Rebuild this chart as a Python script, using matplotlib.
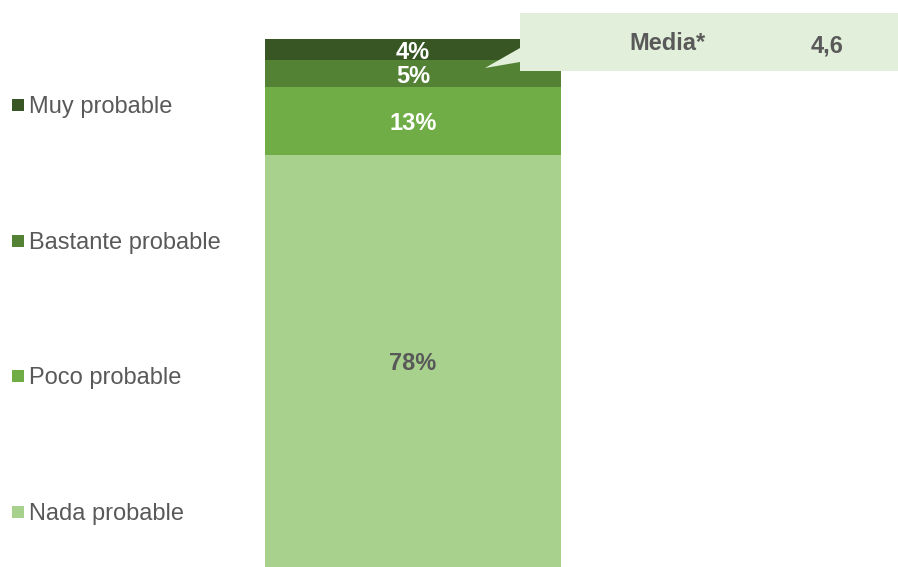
import matplotlib.pyplot as plt
from matplotlib.patches import Polygon, Rectangle

# Datos (de abajo hacia arriba)
categorias = ['Nada probable', 'Poco probable', 'Bastante probable', 'Muy probable']
valores = [78, 13, 5, 4]
colores = ['#A9D18E', '#70AD47', '#548235', '#375623']
color_etiqueta = ['#595959', 'white', 'white', 'white']
media_label = 'Media*'
media_valor = '4,6'

W, H = 898, 567
gris = '#595959'
plt.rcParams['font.family'] = ['Liberation Sans', 'DejaVu Sans']

fig = plt.figure(figsize=(W / 100, H / 100), dpi=100)

def px(x, y):
    # pixeles (origen arriba-izquierda) -> fraccion de figura
    return (x / W, 1 - y / H)

# Barra apilada
ax = fig.add_axes([265 / W, 0, 296 / W, 528 / H])
bottom = 0
for v, c, tc in zip(valores, colores, color_etiqueta):
    ax.bar(0.5, v, width=1, bottom=bottom, color=c, linewidth=0)
    ax.annotate(f'{v}%', (0.5, bottom + v / 2), xytext=(0, -2),
                textcoords='offset points', ha='center', va='center',
                color=tc, fontsize=17, fontweight='bold', annotation_clip=False, zorder=5)
    bottom += v
ax.set_xlim(0, 1)
ax.set_ylim(0, 100)
ax.axis('off')

# Leyenda manual
ys = [512, 376, 241, 105]
for cat, c, y in zip(categorias, colores, ys):
    x0, y0 = px(12, y + 6)
    fig.patches.append(Rectangle((x0, y0), 12 / W, 12 / H, transform=fig.transFigure,
                                 facecolor=c, edgecolor='none'))
    fig.text(*px(29, y + 2), cat, ha='left', va='center', color=gris, fontsize=17)

# Bocadillo de la media
pts = [px(520, 13), px(898, 13), px(898, 71), px(520, 71), px(520, 62),
       px(485, 68), px(520, 48)]
fig.patches.append(Polygon(pts, closed=True, transform=fig.transFigure,
                           facecolor='#E2EFDA', edgecolor='none', zorder=10))
fig.text(*px(667, 44), media_label, ha='center', va='center', color=gris,
         fontsize=17, fontweight='bold', zorder=11)
fig.text(*px(827, 46), media_valor, ha='center', va='center', color=gris,
         fontsize=17, fontweight='bold', zorder=11)

fig.savefig('out.png', dpi=100)
